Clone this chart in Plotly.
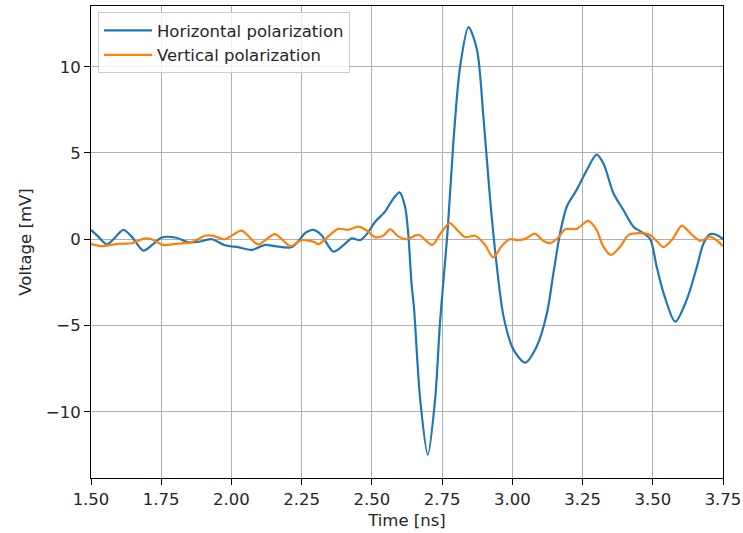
import plotly.graph_objects as go

# Horizontal polarization (time in ns, voltage in mV)
h_time = [1.500, 1.526, 1.556, 1.580, 1.615, 1.645, 1.686, 1.720, 1.752, 1.800, 1.846, 1.888,
          1.930, 1.977, 2.024, 2.072, 2.120, 2.155, 2.214, 2.244, 2.262, 2.292, 2.320, 2.363,
          2.400, 2.428, 2.458, 2.482, 2.511, 2.547, 2.570, 2.598, 2.618, 2.630, 2.641, 2.650,
          2.672, 2.699, 2.725, 2.743, 2.769, 2.790, 2.814, 2.844, 2.874, 2.897, 2.921, 2.945,
          2.969, 3.004, 3.046, 3.087, 3.123, 3.146, 3.170, 3.194, 3.229, 3.265, 3.300, 3.324,
          3.360, 3.395, 3.431, 3.467, 3.491, 3.514, 3.538, 3.580, 3.621, 3.657, 3.681, 3.705,
          3.728, 3.750]
h_volt = [0.54, 0.15, -0.30, 0.00, 0.54, 0.15, -0.66, -0.30, 0.10, 0.10, -0.17, -0.13,
          0.00, -0.35, -0.46, -0.62, -0.33, -0.40, -0.46, 0.00, 0.35, 0.54, 0.25, -0.72,
          -0.33, 0.05, -0.05, 0.30, 1.00, 1.60, 2.20, 2.72, 1.90, 0.20, -2.55, -4.00,
          -9.30, -12.50, -9.30, -4.70, 0.35, 5.60, 10.00, 12.30, 11.00, 7.10, 2.30, -1.60,
          -4.50, -6.40, -7.15, -6.20, -4.30, -2.00, 0.35, 1.90, 2.86, 4.00, 4.90, 4.40,
          2.67, 1.70, 0.73, 0.35, 0.00, -1.60, -3.10, -4.78, -3.50, -1.60, -0.23, 0.30,
          0.25, 0.00]

# Vertical polarization
v_time = [1.500, 1.535, 1.597, 1.645, 1.692, 1.716, 1.757, 1.800, 1.857, 1.906, 1.935, 1.977,
          2.036, 2.095, 2.155, 2.209, 2.250, 2.297, 2.309, 2.340, 2.380, 2.416, 2.452, 2.482,
          2.511, 2.540, 2.565, 2.595, 2.624, 2.666, 2.715, 2.743, 2.777, 2.800, 2.832, 2.868,
          2.903, 2.932, 2.962, 2.990, 3.020, 3.050, 3.080, 3.111, 3.135, 3.164, 3.188, 3.229,
          3.270, 3.300, 3.324, 3.351, 3.384, 3.414, 3.455, 3.490, 3.514, 3.538, 3.570, 3.603,
          3.640, 3.670, 3.705, 3.750]
v_volt = [-0.27, -0.40, -0.27, -0.23, 0.05, 0.00, -0.33, -0.27, -0.17, 0.20, 0.20, 0.00,
          0.50, -0.30, 0.30, -0.40, -0.05, -0.17, -0.30, 0.10, 0.60, 0.55, 0.73, 0.50,
          0.12, 0.20, 0.57, 0.15, 0.00, 0.25, -0.33, 0.30, 0.93, 0.60, 0.12, 0.20,
          -0.33, -1.05, -0.40, 0.00, -0.05, 0.05, 0.33, -0.10, -0.22, 0.10, 0.58, 0.60,
          1.06, 0.54, -0.43, -0.91, -0.43, 0.25, 0.35, 0.25, -0.10, -0.46, 0.00, 0.77,
          0.25, -0.10, 0.15, -0.40]

x_ticks = [1.50, 1.75, 2.00, 2.25, 2.50, 2.75, 3.00, 3.25, 3.50, 3.75]
y_ticks = [-10, -5, 0, 5, 10]

FS = 16.5
TXT = "#262626"

fig = go.Figure()
fig.add_trace(go.Scatter(x=h_time, y=h_volt, mode="lines", name="Horizontal polarization",
                         line=dict(color="#1f77b4", width=2.2, shape="spline", smoothing=0.8)))
fig.add_trace(go.Scatter(x=v_time, y=v_volt, mode="lines", name="Vertical polarization",
                         line=dict(color="#ff7f0e", width=2.2, shape="spline", smoothing=0.8)))

axis_common = dict(showline=True, linecolor="black", linewidth=1, mirror=True,
                   ticks="outside", ticklen=6, tickcolor="black",
                   showgrid=True, gridcolor="#b0b0b0", gridwidth=1, zeroline=False,
                   automargin=False, tickfont=dict(size=FS, color=TXT))

fig.update_xaxes(range=[1.5, 3.75], tickvals=x_ticks,
                 ticktext=[f"{t:.2f}" for t in x_ticks],
                 title=dict(text="Time [ns]", font=dict(size=FS, color=TXT), standoff=6),
                 **axis_common)
fig.update_yaxes(range=[-13.84, 13.52], tickvals=y_ticks,
                 title=dict(text="Voltage [mV]", font=dict(size=FS, color=TXT), standoff=10),
                 **axis_common)

fig.update_layout(
    width=743, height=533,
    margin=dict(l=91, r=20, t=6, b=55),
    plot_bgcolor="white", paper_bgcolor="white",
    font=dict(family="DejaVu Sans", size=FS, color=TXT),
    legend=dict(x=0.011, y=0.987, xanchor="left", yanchor="top",
                bgcolor="rgba(255,255,255,0.8)", bordercolor="#cccccc", borderwidth=1,
                font=dict(size=FS, color=TXT), tracegroupgap=0, itemwidth=48),
    showlegend=True,
)

fig.write_html("out.html")
